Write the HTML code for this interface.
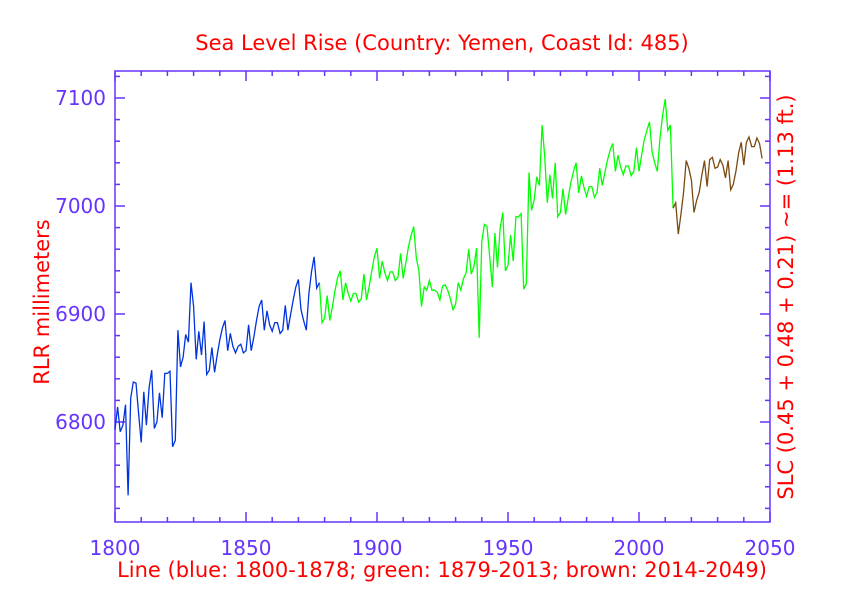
<!DOCTYPE html>
<html><head><meta charset="utf-8"><style>
body{margin:0;background:#fff;}
svg{display:block;font-family:"DejaVu Sans","Liberation Sans",sans-serif;}
</style></head><body>
<svg id="c" width="842" height="595">
<text x="442" y="50" fill="#ff0000" font-size="21" text-anchor="middle">Sea Level Rise (Country: Yemen, Coast Id: 485)</text>
<text x="442" y="577" fill="#ff0000" font-size="21" text-anchor="middle">Line (blue: 1800-1878; green: 1879-2013; brown: 2014-2049)</text>
<text transform="translate(49,302) rotate(-90)" fill="#ff0000" font-size="21" text-anchor="middle">RLR millimeters</text>
<text transform="translate(793,297) rotate(-90)" fill="#ff0000" font-size="21" text-anchor="middle">SLC (0.45 + 0.48 + 0.21) ~= (1.13 ft.)</text>
<g id="axes"></g><g id="series"></g>
</svg>
<script>
const blueYears=[1800,1878];
const blueVals=[6793,6814,6791,6797,6816,6732,6822,6837,6836,6808,6781,6828,6797,6832,6848,6794,6800,6827,6804,6845,6845,6847,6777,6783,6885,6851,6860,6881,6874,6929,6907,6858,6884,6862,6893,6844,6848,6869,6846,6862,6876,6887,6894,6866,6882,6870,6864,6870,6872,6864,6866,6890,6866,6879,6894,6907,6913,6885,6903,6890,6884,6892,6892,6882,6885,6908,6885,6899,6913,6925,6932,6904,6894,6885,6919,6939,6953,6924,6929];
const greenYears=[1878,2013];
const greenVals=[6929,6892,6896,6917,6894,6907,6922,6934,6940,6913,6929,6919,6912,6919,6919,6911,6914,6937,6913,6925,6940,6953,6961,6933,6949,6938,6931,6939,6939,6931,6934,6956,6933,6947,6962,6973,6981,6952,6940,6907,6925,6922,6931,6922,6922,6920,6913,6926,6927,6922,6914,6904,6909,6929,6922,6933,6938,6960,6937,6944,6961,6878,6967,6983,6981,6953,6925,6975,6943,6979,6994,6940,6945,6973,6949,6990,6990,6993,6923,6928,7031,6996,7006,7027,7019,7075,7046,7003,7029,7007,7040,6990,6994,7016,6992,7008,7022,7032,7040,7012,7028,7017,7009,7018,7018,7008,7013,7035,7019,7031,7043,7052,7058,7032,7047,7036,7029,7037,7037,7028,7032,7054,7032,7047,7061,7070,7078,7050,7040,7032,7063,7084,7099,7070,7075,6998];
const brownYears=[2013,2048];
const brownVals=[6998,7003,6974,6992,7012,7042,7035,7024,6994,7005,7013,7029,7042,7018,7043,7045,7035,7036,7043,7038,7026,7042,7015,7020,7032,7049,7059,7038,7059,7064,7055,7055,7063,7058,7044];
const xTicks=[1800,1850,1900,1950,2000,2050];
const yTicks=[6800,6900,7000,7100];
const L=115,R=770,T=71,B=522,x0=1800,x1=2050,y0=6707.4,y1=7125;
const X=v=>L+(v-x0)/(x1-x0)*(R-L);
const Y=v=>B-(v-y0)/(y1-y0)*(B-T);
const NS='http://www.w3.org/2000/svg';
const ax=document.getElementById('axes'),se=document.getElementById('series');
const AC='#6633ff';
function mk(tag,attrs,parent){const e=document.createElementNS(NS,tag);for(const k in attrs)e.setAttribute(k,attrs[k]);parent.appendChild(e);return e;}
const frame=mk('rect',{x:L,y:T,width:R-L,height:B-T,fill:'none',stroke:AC,'stroke-width':1.5},ax);


for(let v=x0;v<=x1;v+=10){const big=v%50===0,len=big?10:5,x=X(v);
 mk('line',{x1:x,x2:x,y1:B,y2:B-len,stroke:AC,'stroke-width':1.5},ax);
 mk('line',{x1:x,x2:x,y1:T,y2:T+len,stroke:AC,'stroke-width':1.5},ax);}
for(let v=6720;v<=7120;v+=20){const big=v%100===0,len=big?10:5,y=Y(v);
 mk('line',{x1:L,x2:L+len,y1:y,y2:y,stroke:AC,'stroke-width':1.5},ax);
 mk('line',{x1:R,x2:R-len,y1:y,y2:y,stroke:AC,'stroke-width':1.5},ax);}
xTicks.forEach(v=>{const t=mk('text',{x:X(v),y:555,fill:AC,'font-size':20,'text-anchor':'middle'},ax);t.textContent=v;
 
 });
yTicks.forEach(v=>{const t=mk('text',{x:106,y:Y(v)+7,fill:AC,'font-size':20,'text-anchor':'end'},ax);t.textContent=v;
 
 });
function line(yrs,vals,color,name){const pts=vals.map((v,i)=>X(yrs[0]+i).toFixed(1)+','+Y(v).toFixed(1)).join(' ');
 const p=mk('polyline',{points:pts,fill:'none',stroke:color,'stroke-width':1.3},se);
 
 }
line(greenYears,greenVals,'#00ff00','green-series');
line(brownYears,brownVals,'#7a4a10','brown-series');
line(blueYears,blueVals,'#0033dd','blue-series');
</script>
</body></html>
